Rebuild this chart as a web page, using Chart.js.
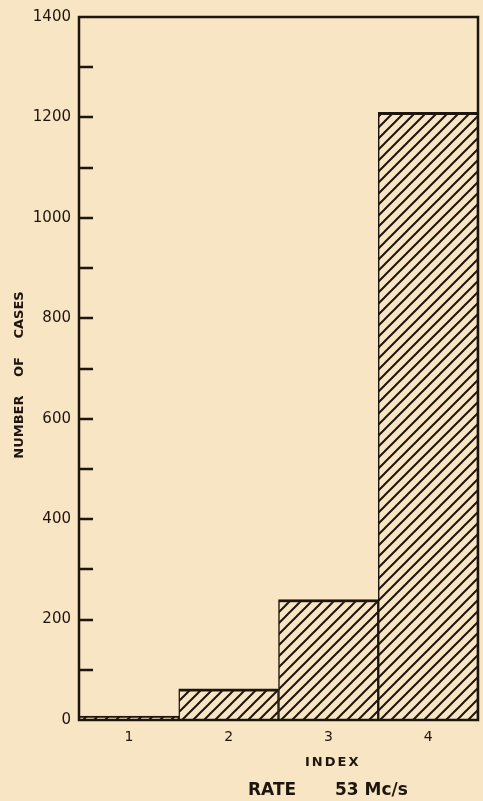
<!DOCTYPE html>
<html><head><meta charset="utf-8">
<script src="https://cdn.jsdelivr.net/npm/chart.js@4.4.0/dist/chart.umd.min.js"></script>
<style>html,body{margin:0;padding:0;background:#f8e5c3;}#wrap{width:483px;height:801px;}</style>
</head><body><div id="wrap"><canvas id="c" width="483" height="801"></canvas></div>
<script>
const categories = ['1', '2', '3', '4'];
const cases = [8, 62, 240, 1210];
const yTickLabels = [0, 200, 400, 600, 800, 1000, 1200, 1400];
const yMinorStep = 100;
const xTitle = 'INDEX';
const yTitle = 'NUMBER OF CASES';
const captionLeft = 'RATE';
const captionRight = '53 Mc/s';

const INK = '#1f150f';
const BG = '#f8e5c3';
const FONT = '"DejaVu Sans", sans-serif';

const canvas = document.getElementById('c');
const mainCtx = canvas.getContext('2d');

function makeHatch() {
  const s = 11;
  const c = document.createElement('canvas');
  c.width = s; c.height = s;
  const g = c.getContext('2d');
  g.fillStyle = BG; g.fillRect(0, 0, s, s);
  g.strokeStyle = INK; g.lineWidth = 2;
  g.beginPath();
  g.moveTo(-2, s + 2); g.lineTo(s + 2, -2);
  g.moveTo(-2, 2); g.lineTo(2, -2);
  g.moveTo(s - 2, s + 2); g.lineTo(s + 2, s - 2);
  g.stroke();
  return mainCtx.createPattern(c, 'repeat');
}

const decor = {
  id: 'decor',
  beforeDraw(chart) {
    const ctx = chart.ctx;
    ctx.save();
    ctx.fillStyle = BG;
    ctx.fillRect(0, 0, chart.width, chart.height);
    ctx.restore();
  },
  afterDraw(chart) {
    const {ctx, chartArea: a, scales: {x, y}} = chart;
    ctx.save();
    ctx.strokeStyle = INK;
    ctx.lineWidth = 2.5;
    ctx.strokeRect(a.left, a.top, a.right - a.left, a.bottom - a.top);
    ctx.beginPath();
    y.ticks.forEach(t => {
      if (t.value <= y.min || t.value >= y.max) return;
      const py = Math.round(y.getPixelForValue(t.value));
      ctx.moveTo(a.left, py);
      ctx.lineTo(a.left + 14, py);
    });
    ctx.stroke();

    ctx.fillStyle = INK;
    // y title
    ctx.save();
    ctx.translate(20, 375);
    ctx.rotate(-Math.PI / 2);
    ctx.font = 'bold 13px ' + FONT;
    ctx.wordSpacing = '14px';
    ctx.textAlign = 'center';
    ctx.textBaseline = 'middle';
    ctx.fillText(yTitle, 0, 0);
    ctx.restore();

    // x title
    ctx.save();
    ctx.font = 'bold 13px ' + FONT;
    ctx.letterSpacing = '2px';
    ctx.textAlign = 'left';
    ctx.textBaseline = 'alphabetic';
    ctx.fillText(xTitle, 305, 766);
    ctx.restore();

    // caption
    ctx.save();
    ctx.font = 'bold 17px ' + FONT;
    ctx.textAlign = 'left';
    ctx.textBaseline = 'alphabetic';
    ctx.fillText(captionLeft, 248, 795);
    ctx.fillText(captionRight, 335, 795);
    ctx.restore();

    ctx.restore();
  }
};

new Chart(canvas, {
  type: 'bar',
  data: {
    labels: categories,
    datasets: [{
      data: cases,
      backgroundColor: makeHatch(),
      borderColor: INK,
      borderWidth: {top: 3, left: 1.5, right: 1.5, bottom: 0},
      borderSkipped: false,
      barPercentage: 1,
      categoryPercentage: 1
    }]
  },
  options: {
    responsive: false,
    animation: false,
    events: [],
    layout: {padding: {top: 16, right: 5, bottom: 51, left: 0}},
    plugins: {legend: {display: false}, tooltip: {enabled: false}, title: {display: false}},
    scales: {
      x: {
        grid: {display: false, drawTicks: false},
        border: {display: false},
        ticks: {color: INK, font: {family: FONT, size: 14}, padding: 9},
        afterFit(s) { s.height = 30; }
      },
      y: {
        min: 0,
        max: 1400,
        grid: {display: false, drawTicks: false},
        border: {display: false},
        ticks: {
          stepSize: yMinorStep,
          autoSkip: false,
          color: INK,
          font: {family: FONT, size: 15},
          padding: 8,
          callback: v => yTickLabels.includes(v) ? String(v) : ''
        },
        afterFit(s) { s.width = 79; }
      }
    }
  },
  plugins: [decor]
});
</script>
</body></html>
